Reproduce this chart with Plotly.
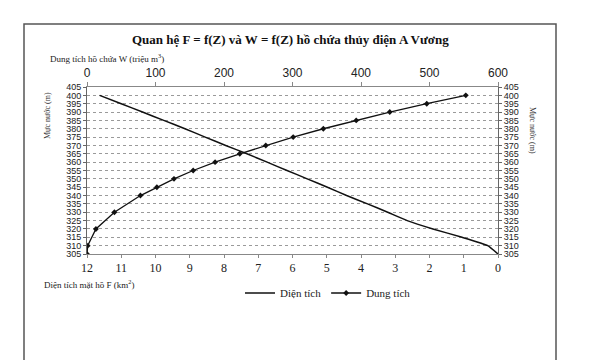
import plotly.graph_objects as go

# Water levels (m)
z_area = [305, 310, 315, 320, 325, 330, 335, 340, 345, 350, 355, 360, 365, 370, 375, 380, 385, 390, 395, 400]
# Surface area F (km2)
area_f = [0.0, 0.3, 1.05, 1.9, 2.65, 3.22, 3.81, 4.42, 4.98, 5.57, 6.16, 6.74, 7.33, 7.95, 8.55, 9.14, 9.76, 10.38, 11.0, 11.63]

z_vol = [305, 310, 320, 330, 340, 345, 350, 355, 360, 365, 370, 375, 380, 385, 390, 395, 400]
# Storage W (million m3)
vol_w = [0, 1, 13, 40, 78, 102, 127, 155, 187, 223, 261, 301, 345, 393, 442, 496, 553]

z_ticks = list(range(305, 406, 5))
f_ticks = list(range(0, 13))
w_ticks = list(range(0, 601, 100))

OFF = 8  # page body margin
L, R, T, B = 87, 498, 87, 254
W_PX, H_PX = 592, 360
PW, PH = R - L, B - T

def px(x):
    return (x - L) / PW

def py(y):
    return (B - y) / PH

fig = go.Figure()
fig.add_trace(go.Scatter(
    x=area_f, y=z_area, name="Diện tích", mode="lines",
    line=dict(color="#111111", width=1.5, shape="spline", smoothing=0.4),
    xaxis="x", yaxis="y"))
fig.add_trace(go.Scatter(
    x=vol_w, y=z_vol, name="Dung tích", mode="lines+markers",
    line=dict(color="#111111", width=1.3),
    marker=dict(symbol="diamond", size=4.5, color="#111111"),
    xaxis="x2", yaxis="y"))
# invisible trace to activate right axis
fig.add_trace(go.Scatter(x=[None], y=[None], xaxis="x", yaxis="y2", showlegend=False))

tickfont_sans = dict(family="Liberation Sans", size=9, color="#222222")

fig.update_layout(
    width=W_PX, height=H_PX,
    margin=dict(l=L - OFF, r=W_PX + OFF - R, t=T - OFF, b=H_PX + OFF - B, pad=0),
    paper_bgcolor="white", plot_bgcolor="white",
    showlegend=True,
    legend=dict(orientation="h", x=px(240), y=py(293), xanchor="left", yanchor="middle",
                font=dict(family="Liberation Serif", size=11, color="#222222"),
                itemwidth=30, tracegroupgap=0, bgcolor="rgba(0,0,0,0)"),
    xaxis=dict(range=[12, 0], tickvals=f_ticks, ticktext=[str(v) for v in f_ticks],
               showgrid=False, zeroline=False, showline=True, linecolor="#888888", linewidth=1,
               ticks="outside", ticklen=3, tickcolor="#888888",
               tickfont=dict(family="Liberation Serif", size=12, color="#222222"),
               side="bottom", anchor="y"),
    xaxis2=dict(range=[0, 600], tickvals=w_ticks, overlaying="x", side="top", anchor="y",
                showgrid=False, zeroline=False, showline=True, linecolor="#888888", linewidth=1,
                ticks="outside", ticklen=4, tickcolor="#888888",
                tickfont=dict(family="Liberation Sans", size=12, color="#222222")),
    yaxis=dict(range=[305, 405], tickvals=z_ticks, showgrid=True, gridcolor="#9a9a9a",
               griddash="dot", gridwidth=1, zeroline=False, showline=True, linecolor="#666666",
               linewidth=1, ticks="outside", ticklen=3, tickcolor="#666666",
               tickfont=tickfont_sans, side="left"),
    yaxis2=dict(range=[305, 405], tickvals=z_ticks, overlaying="y", side="right",
                showgrid=False, zeroline=False, showline=True, linecolor="#666666",
                linewidth=1, ticks="outside", ticklen=3, tickcolor="#666666",
                tickfont=tickfont_sans),
)

ann = [
    dict(text="<b>Quan hệ F = f(Z) và W = f(Z) hồ chứa thủy điện A Vương</b>",
         x=px(290), y=py(40), xanchor="center", yanchor="middle",
         font=dict(family="Liberation Serif", size=13, color="#111111")),
    dict(text="Dung tích hồ chứa W (triệu m<sup>3</sup>)",
         x=px(48), y=py(58), xanchor="left", yanchor="middle",
         font=dict(family="Liberation Serif", size=9, color="#222222")),
    dict(text="Diện tích mặt hồ F (km<sup>2</sup>)",
         x=px(42), y=py(284), xanchor="left", yanchor="middle",
         font=dict(family="Liberation Serif", size=9, color="#222222")),
    dict(text="Mực nước (m)", textangle=-90,
         x=px(47), y=py(116), xanchor="center", yanchor="middle",
         font=dict(family="Liberation Serif", size=8, color="#333333")),
    dict(text="Mực nước (m)", textangle=90,
         x=px(533), y=py(130), xanchor="center", yanchor="middle",
         font=dict(family="Liberation Serif", size=8, color="#333333")),
]
for a in ann:
    a.update(xref="paper", yref="paper", showarrow=False)
fig.update_layout(annotations=ann)

# scanned chart frame
fig.add_shape(type="rect", xref="paper", yref="paper",
              x0=px(24), x1=px(556), y0=py(362), y1=py(24),
              line=dict(color="#555555", width=1.5), layer="below")

fig.write_html("out.html")
